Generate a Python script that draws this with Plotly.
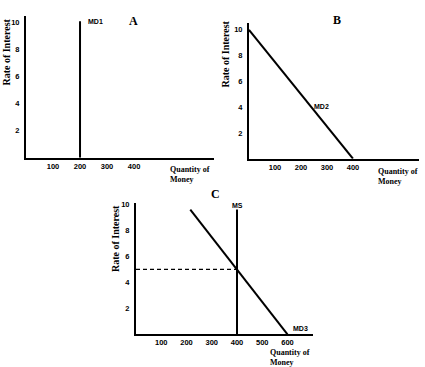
import plotly.graph_objects as go

# ---- data ----
md1_q = [200, 200]
md1_r = [0, 10.1]

md2_q = [0, 400]
md2_r = [10, 0]

md3_q = [215, 600]
md3_r = [9.6, 0]

ms_q = [400, 400]
ms_r = [0, 9.6]

eq_q = [0, 400]
eq_r = [5, 5]

y_ticks = [2, 4, 6, 8, 10]
x_ticks_ab = [100, 200, 300, 400]
x_ticks_c = [100, 200, 300, 400, 500, 600]

W, H = 425, 367

def px(x):
    return x / W

def py(y):
    return 1 - y / H

fig = go.Figure()

line = dict(color="black", width=2)
fig.add_trace(go.Scatter(x=md1_q, y=md1_r, mode="lines", line=line, xaxis="x", yaxis="y", hoverinfo="skip"))
fig.add_trace(go.Scatter(x=md2_q, y=md2_r, mode="lines", line=line, xaxis="x2", yaxis="y2", hoverinfo="skip"))
fig.add_trace(go.Scatter(x=md3_q, y=md3_r, mode="lines", line=line, xaxis="x3", yaxis="y3", hoverinfo="skip"))
fig.add_trace(go.Scatter(x=ms_q, y=ms_r, mode="lines", line=line, xaxis="x3", yaxis="y3", hoverinfo="skip"))
fig.add_trace(go.Scatter(x=eq_q, y=eq_r, mode="lines", line=dict(color="black", width=1.3, dash="4px,3px"),
                         xaxis="x3", yaxis="y3", hoverinfo="skip"))

tickfont = dict(family="Liberation Sans", size=7.5, color="black", weight="bold")

def xax(domain, rng, ticks, anchor):
    return dict(domain=domain, range=rng, tickvals=ticks, showgrid=False, zeroline=False,
                showline=True, linecolor="black", linewidth=2, ticks="", tickfont=tickfont,
                anchor=anchor, fixedrange=True)

def yax(domain, rng, ticks, anchor):
    return dict(domain=domain, range=rng, tickvals=ticks, showgrid=False, zeroline=False,
                showline=True, linecolor="black", linewidth=2, ticks="", tickfont=tickfont,
                anchor=anchor, fixedrange=True, ticklabelstandoff=3)

fig.update_layout(
    width=W, height=H,
    margin=dict(l=0, r=0, t=0, b=0),
    paper_bgcolor="white", plot_bgcolor="white",
    showlegend=False,
    xaxis=xax([px(26), px(214)], [0, 696], x_ticks_ab, "y"),
    yaxis=yax([py(156), py(13)], [0, 10.5], y_ticks, "x"),
    xaxis2=xax([px(249), px(419)], [0, 654], x_ticks_ab, "y2"),
    yaxis2=yax([py(157), py(20)], [0, 10.54], y_ticks, "x2"),
    xaxis3=xax([px(136), px(313)], [0, 701], x_ticks_c, "y3"),
    yaxis3=yax([py(334), py(202)], [0, 10.08], y_ticks, "x3"),
)

serif = "Liberation Serif"
anns = []

def pa(x, y, text, size, family=serif, xanchor="center", yanchor="middle", angle=0, align="center", bold=True):
    anns.append(dict(xref="paper", yref="paper", x=px(x), y=py(y), text=text, showarrow=False,
                     font=dict(family=family, size=size, color="black", weight="bold" if bold else "normal"),
                     xanchor=xanchor, yanchor=yanchor, textangle=angle, align=align))

# y titles
pa(7, 50, "Rate of Interest", 10, angle=-90)
pa(226, 52, "Rate of Interest", 10, angle=-90)
pa(115, 237, "Rate of Interest", 10, angle=-90)

# x titles
pa(168, 161, "Quantity of<br>Money", 8, xanchor="left", yanchor="top", align="left")
pa(376, 163, "Quantity of<br>Money", 8, xanchor="left", yanchor="top", align="left")
pa(268, 346, "Quantity of<br>Money", 8, xanchor="left", yanchor="top", align="left")

# panel letters
pa(133, 18, "A", 12)
pa(337, 17, "B", 12)
pa(215, 193, "C", 12)

# curve labels
sans = "Liberation Sans"
pa(86, 19, "MD1", 7, family=sans, xanchor="left")
pa(312, 104, "MD2", 7, family=sans, xanchor="left")
pa(237, 204, "MS", 7, family=sans)
pa(291, 328, "MD3", 7, family=sans, xanchor="left")

fig.update_layout(annotations=anns)

fig.write_html("out.html", config={"displayModeBar": False},
               post_script="document.body.style.margin='0';document.body.style.overflow='hidden';")
